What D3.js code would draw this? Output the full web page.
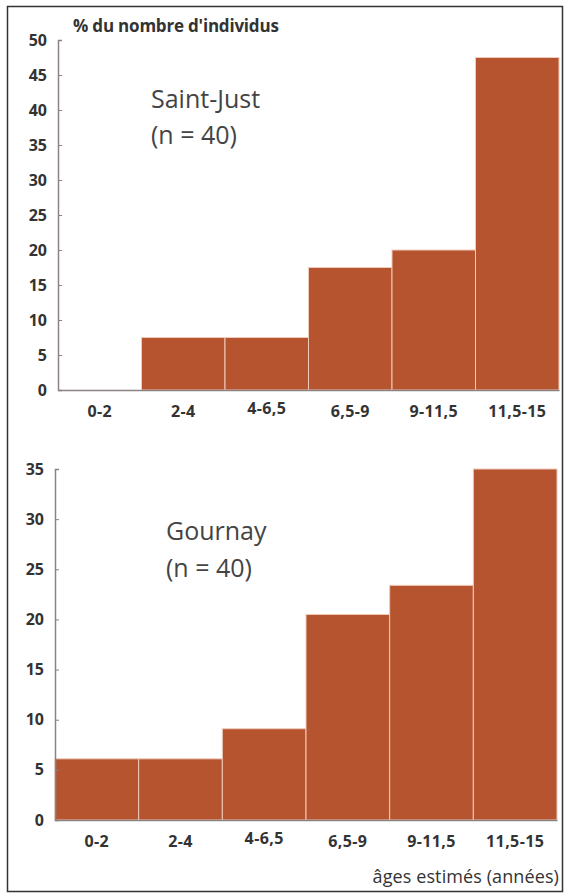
<!DOCTYPE html>
<html>
<head>
<meta charset="utf-8">
<script src="https://cdn.jsdelivr.net/npm/d3@7"></script>
<style>
  body { margin: 0; background: #fff; }
  svg { display: block; }
</style>
</head>
<body>
<div id="chart"></div>
<script>
const categories = ["0-2", "2-4", "4-6,5", "6,5-9", "9-11,5", "11,5-15"]
const saintJust = [0, 7.5, 7.5, 17.5, 20, 47.5]
const gournay = [6.1, 6.1, 9.1, 20.5, 23.4, 35]
const ticksTop = [0, 5, 10, 15, 20, 25, 30, 35, 40, 45, 50]
const ticksBottom = [0, 5, 10, 15, 20, 25, 30, 35]

const width = 566, height = 894
const barColor = "#b5542f"
const axisColor = "#8c8282"
const font = "'Open Sans', 'Noto Sans', sans-serif"

const svg = d3.select("#chart").append("svg")
    .attr("width", width)
    .attr("height", height)

// cadre
svg.append("rect")
    .attr("x", 7.5).attr("y", 6.5)
    .attr("width", 555).attr("height", 885)
    .attr("fill", "none")
    .attr("stroke", "#333")
    .attr("stroke-width", 1.5)

const drawPanel = ({ values, ticks, max, left, right, top, bottom, name, nameX, nameY, lineGap }) => {
    const x = d3.scaleBand().domain(categories).range([left, right]).padding(0)
    const y = d3.scaleLinear().domain([0, max]).range([bottom, top])
    const g = svg.append("g")

    g.append("g")
        .selectAll("rect")
        .data(values)
        .join("rect")
        .attr("x", (d, i) => x(categories[i]))
        .attr("y", d => y(d))
        .attr("width", x.bandwidth())
        .attr("height", d => y(0) - y(d))
        .attr("fill", barColor)
        .attr("stroke", d => d > 0 ? "#f0cbbb" : "none")
        .attr("stroke-width", 1)

    const yAxis = g.append("g")
        .attr("transform", `translate(${left},0)`)
        .call(d3.axisLeft(y).tickValues(ticks).tickSize(-4).tickSizeOuter(-4).tickPadding(11))
    yAxis.select(".domain").attr("stroke", axisColor).attr("stroke-width", 1.5)
    yAxis.selectAll(".tick line").attr("stroke", axisColor)
    yAxis.selectAll("text")
        .attr("font-family", font)
        .attr("font-size", 16)
        .attr("font-weight", "bold")
        .attr("fill", "#333")

    const xAxis = g.append("g")
        .attr("transform", `translate(0,${bottom})`)
        .call(d3.axisBottom(x).tickSize(0).tickPadding(16))
    xAxis.select(".domain").attr("stroke", axisColor).attr("stroke-width", 1.5)
    xAxis.selectAll("text")
        .attr("font-family", font)
        .attr("font-size", 16)
        .attr("font-weight", "bold")
        .attr("letter-spacing", 0.4)
        .attr("fill", "#333")
        .attr("dy", d => d == "4-6,5" ? "0.52em" : "0.71em")

    const label = g.append("text")
        .attr("x", nameX).attr("y", nameY)
        .attr("font-family", font)
        .attr("font-size", 25)
        .attr("fill", "#444")
    label.append("tspan").attr("x", nameX).text(name)
    label.append("tspan").attr("x", nameX).attr("dy", lineGap).text("(n = 40)")
}

drawPanel({
    values: saintJust, ticks: ticksTop, max: 50,
    left: 58, right: 559, top: 40, bottom: 390,
    name: "Saint-Just", nameX: 151, nameY: 108, lineGap: 36
})

drawPanel({
    values: gournay, ticks: ticksBottom, max: 35,
    left: 55, right: 557, top: 469, bottom: 820,
    name: "Gournay", nameX: 166, nameY: 540, lineGap: 37
})

svg.append("text")
    .attr("x", 73).attr("y", 32)
    .attr("font-family", font)
    .attr("font-size", 17)
    .attr("font-weight", "bold")
    .attr("letter-spacing", -0.2)
    .attr("fill", "#333")
    .text("% du nombre d'individus")

svg.append("text")
    .attr("x", 559).attr("y", 883)
    .attr("text-anchor", "end")
    .attr("font-family", font)
    .attr("font-size", 18)
    .attr("letter-spacing", 0.1)
    .attr("fill", "#333")
    .text("âges estimés (années)")
</script>
</body>
</html>
